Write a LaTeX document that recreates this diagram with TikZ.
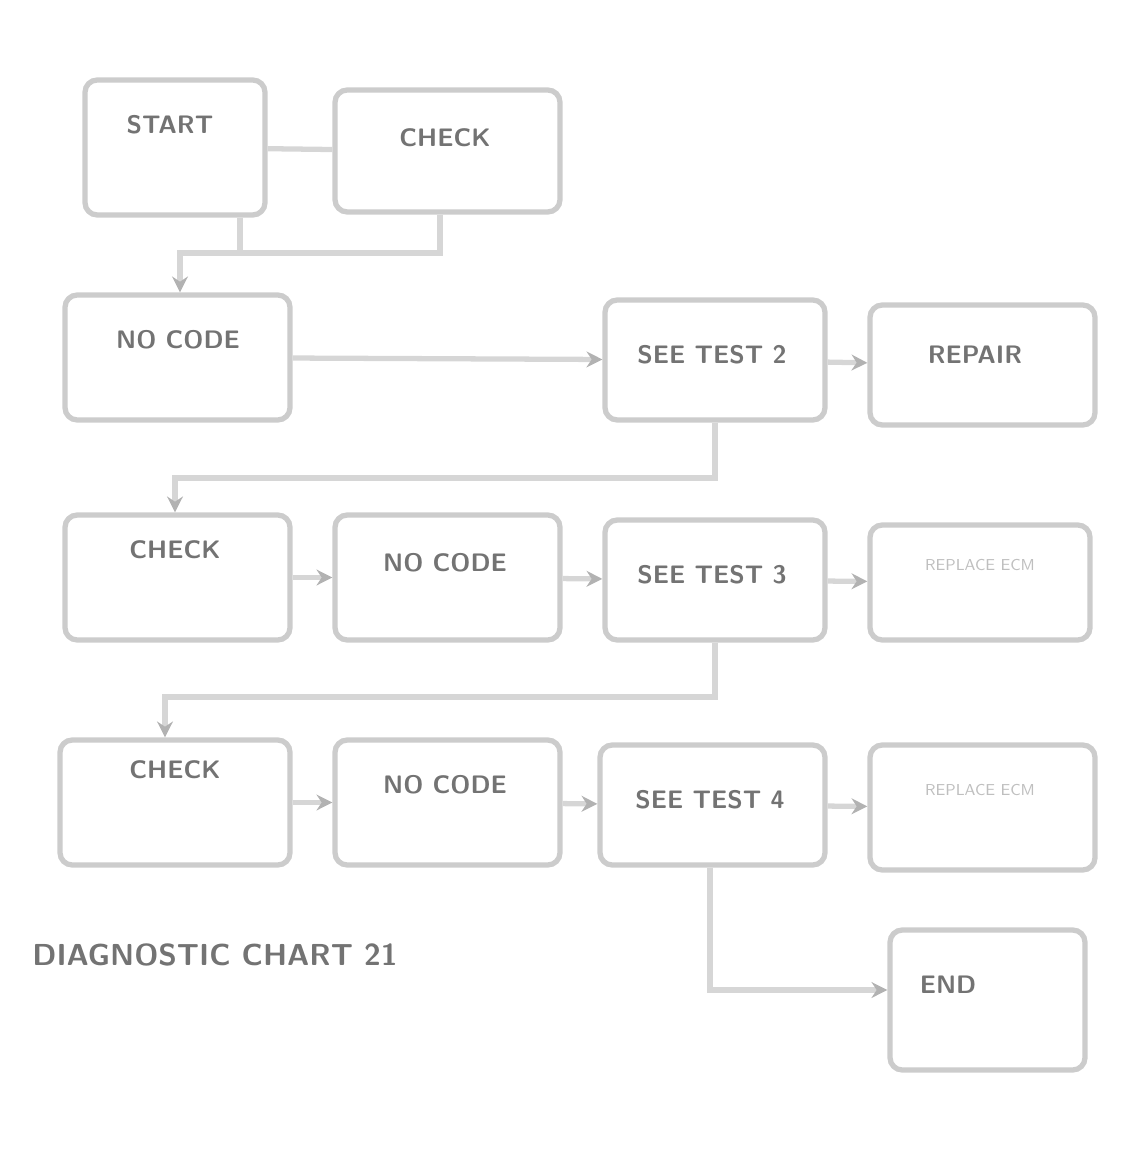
\documentclass[tikz,border=0pt]{standalone}
\usetikzlibrary{fit,arrows.meta}
\tikzset{
  x=0.02cm, y=-0.02cm,
  box/.style={draw=black!20, line width=3pt, rounded corners=7pt, fill=white, inner sep=0pt},
  txt/.style={text=black!55, font=\sffamily\bfseries\Large},
  ltxt/.style={text=black!25, font=\sffamily\small},
  link/.style={draw=black!16, line width=3pt},
  arr/.style={link, -{Stealth[length=9pt,width=9pt,color=black!30]}},
}
\begin{document}
\begin{tikzpicture}
\useasboundingbox (0,0) rectangle (1135,1151);
% row 1
\node[box, fit={(85,80) (265,215)}] (A) {};
\node[box, fit={(335,90) (560,212)}] (B) {};
\node[txt] (At) at (170,125) {START};
\node[txt] (Bt) at (445,138) {CHECK};
% row 2
\node[box, fit={(65,295) (290,420)}] (C) {};
\node[box, fit={(605,300) (825,420)}] (D) {};
\node[box, fit={(870,305) (1095,425)}] (E) {};
\node[txt] (Ct) at (178,340) {NO CODE};
\node[txt] (Dt) at (712,355) {SEE TEST 2};
\node[txt] (Et) at (975,355) {REPAIR};
% row 3
\node[box, fit={(65,515) (290,640)}] (F) {};
\node[box, fit={(335,515) (560,640)}] (G) {};
\node[box, fit={(605,520) (825,640)}] (H) {};
\node[box, fit={(870,525) (1090,640)}] (I) {};
\node[txt] (Ft) at (175,550) {CHECK};
\node[txt] (Gt) at (445,563) {NO CODE};
\node[txt] (Ht) at (712,575) {SEE TEST 3};
\node[ltxt] (It) at (980,565) {REPLACE ECM};
% row 4
\node[box, fit={(60,740) (290,865)}] (J) {};
\node[box, fit={(335,740) (560,865)}] (K) {};
\node[box, fit={(600,745) (825,865)}] (L) {};
\node[box, fit={(870,745) (1095,870)}] (M) {};
\node[txt] (Jt) at (175,770) {CHECK};
\node[txt] (Kt) at (445,785) {NO CODE};
\node[txt] (Lt) at (710,800) {SEE TEST 4};
\node[ltxt] (Mt) at (980,790) {REPLACE ECM};
% bottom
\node[box, fit={(890,930) (1085,1070)}] (N) {};
\node[txt] (Nt) at (948,985) {END};
\node[txt, font=\sffamily\bfseries\LARGE] (foot) at (215,955) {DIAGNOSTIC CHART 21};
% junction coordinates
\coordinate (j1) at (440,253);
\coordinate (j2) at (180,253);
\coordinate (j3) at (240,253);
\coordinate (j4) at (715,478);
\coordinate (j5) at (175,478);
\coordinate (j6) at (715,697);
\coordinate (j7) at (165,697);
\coordinate (j8) at (710,990);
% connectors
\draw[link] (A) -- (B);
\draw[link] (B.south -| j1) -- (j1) -- (j3);
\draw[link] (A.south -| j3) -- (j3);
\draw[arr] (j3) -- (j2) -- (C.north -| j2);
\draw[arr] (C) -- (D);
\draw[arr] (D) -- (E);
\draw[arr] (D.south -| j4) -- (j4) -- (j5) -- (F.north -| j5);
\draw[arr] (F) -- (G);
\draw[arr] (G) -- (H);
\draw[arr] (H) -- (I);
\draw[arr] (H.south -| j6) -- (j6) -- (j7) -- (J.north -| j7);
\draw[arr] (J) -- (K);
\draw[arr] (K) -- (L);
\draw[arr] (L) -- (M);
\draw[arr] (L.south -| j8) -- (j8) -- (N.west |- j8);
\end{tikzpicture}
\end{document}
